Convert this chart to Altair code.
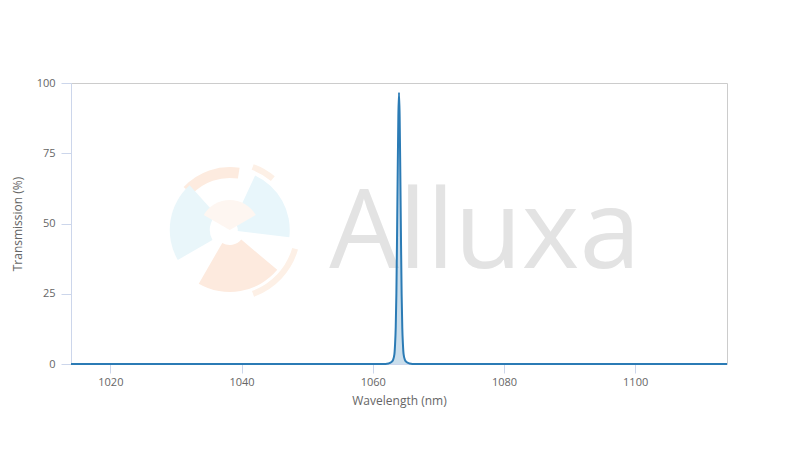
import altair as alt
import pandas as pd

# Spectrum (wavelength in nm, transmission in %)
wavelength = [1014, 1061.5, 1062.4, 1062.8, 1063.1, 1063.3, 1063.4, 1063.5, 1063.6,
              1063.7, 1063.8, 1063.9, 1064.0, 1064.1, 1064.2, 1064.3, 1064.4, 1064.5,
              1064.6, 1064.7, 1064.9, 1065.2, 1065.6, 1066.5, 1114]
transmission = [0, 0, 0.2, 0.6, 1.5, 3.5, 7, 13, 25,
                45, 68, 88, 96.5, 88, 68, 45, 25, 13,
                7, 3.5, 1.5, 0.6, 0.2, 0, 0]

x_ticks = [1020, 1040, 1060, 1080, 1100]
y_ticks = [0, 25, 50, 75, 100]

df = pd.DataFrame({"Wavelength": wavelength, "Transmission": transmission})

xscale = alt.Scale(domain=[1014, 1114], nice=False, zero=False)
yscale = alt.Scale(domain=[0, 100], nice=False)

LINE = "#2b7bb5"

# watermark logo (decorative), centred in data space
logo_x, logo_y = 1038.2, 47.7
deg = 3.14159265 / 180
logo_parts = [
    dict(t1=313, t2=369, r1=52, r2=63, c="#fdebdf"),
    dict(t1=20, t2=40, r1=64, r2=70, c="#fdf0e6"),
    dict(t1=25, t2=97, r1=8, r2=60, c="#e8f6fb"),
    dict(t1=240, t2=318, r1=20, r2=60, c="#e9f6fa"),
    dict(t1=130, t2=210, r1=15, r2=62, c="#fdeade"),
    dict(t1=106, t2=160, r1=65, r2=71, c="#fdf0e6"),
    dict(t1=300, t2=420, r1=0, r2=30, c="#fef6f1"),
]
logo_layers = []
for p in logo_parts:
    logo_layers.append(
        alt.Chart(df).mark_arc(
            theta=p["t1"] * deg, theta2=p["t2"] * deg,
            radius=p["r2"], radius2=p["r1"], color=p["c"]
        ).encode(
            x=alt.X(datum=logo_x, type="quantitative", scale=xscale),
            y=alt.Y(datum=logo_y, type="quantitative", scale=yscale),
        ).transform_filter("datum.Wavelength == 1014")
    )

text = alt.Chart(df).mark_text(
    text="Alluxa", font="Open Sans", fontSize=110, fontWeight="normal",
    color="#e3e3e3", align="center", baseline="alphabetic"
).encode(
    x=alt.X(datum=1077.1, type="quantitative", scale=xscale),
    y=alt.Y(datum=34.2, type="quantitative", scale=yscale),
).transform_filter("datum.Wavelength == 1014")

base = alt.Chart(df).encode(
    x=alt.X("Wavelength:Q", scale=xscale,
            axis=alt.Axis(title="Wavelength (nm)", values=x_ticks, grid=False, format="d",
                          tickSize=9, labelPadding=3, titlePadding=8)),
    y=alt.Y("Transmission:Q", scale=yscale,
            axis=alt.Axis(title="Transmission (%)", values=y_ticks, grid=False, format="d",
                          tickSize=10, labelPadding=6, titlePadding=12)),
)

area = base.mark_area(color=LINE, opacity=0.25, interpolate="monotone")
line = base.mark_line(color=LINE, strokeWidth=2, interpolate="monotone")

chart = alt.layer(*logo_layers, text, area, line).properties(
    width=656, height=281,
    autosize=alt.AutoSizeParams(type="none"),
    padding={"left": 63, "top": 75, "right": 65, "bottom": 78},
).configure_view(
    stroke="#cccccc", strokeWidth=1
).configure_axis(
    labelFont="Open Sans", labelFontSize=11, labelColor="#666666",
    titleFont="Open Sans", titleFontSize=12, titleColor="#666666",
    titleFontWeight="normal",
    domainColor="#ccd6eb", tickColor="#ccd6eb",
)

chart.save("out.html", embed_options={"renderer": "svg", "actions": False})
